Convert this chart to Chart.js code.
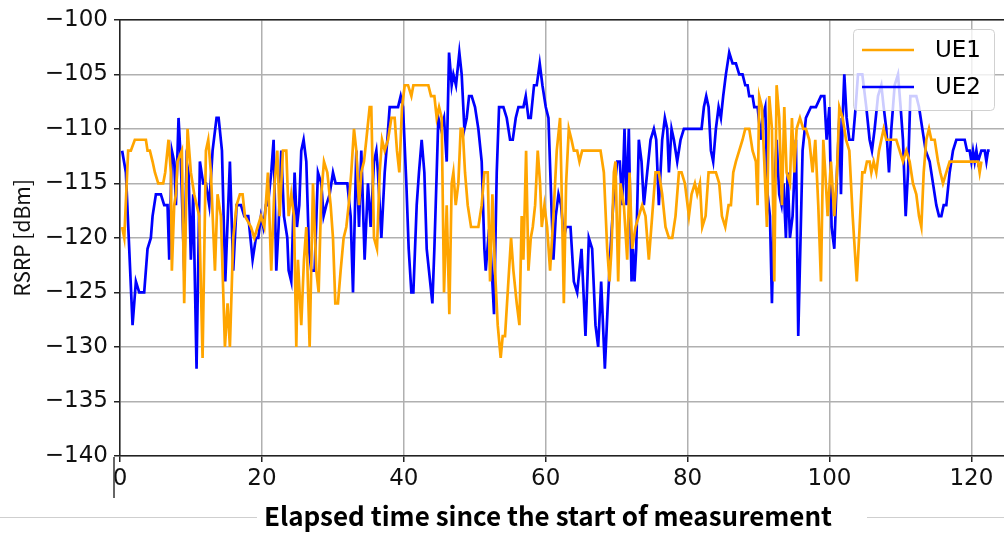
<!DOCTYPE html>
<html>
<head>
<meta charset="utf-8">
<script src="https://cdn.jsdelivr.net/npm/chart.js@4.4.1/dist/chart.umd.min.js"></script>
<style>
html,body{margin:0;padding:0;background:#fff;}
#wrap{width:1004px;height:533px;position:relative;}
</style>
</head>
<body>
<div id="wrap"><canvas id="c" width="1004" height="533"></canvas></div>
<script>
// ---- data ----
const seriesNames = ["UE1", "UE2"];
const xTitle = "Elapsed time since the start of measurement";
const yTitle = "RSRP [dBm]";
const yTicks = [-140, -135, -130, -125, -120, -115, -110, -105, -100];
const xTicks = [0, 20, 40, 60, 80, 100, 120];

const ue1Time = [0.3,0.6,1.15,1.53,2.09,3.65,3.88,4.21,4.59,4.92,5.39,6.09,6.37,6.84,7.17,7.31,7.64,7.88,8.11,8.72,9.05,9.52,9.99,10.46,11.17,11.64,12.11,12.44,12.81,13.38,13.75,14.22,14.79,15.16,15.49,15.96,16.43,16.9,17.28,17.61,18.46,18.93,19.4,19.87,20.34,
20.85,21.32,21.79,22.17,22.5,22.97,23.44,23.77,24.14,24.52,24.85,25.08,25.55,25.93,26.26,26.73,27.2,27.67,28.0,28.37,28.75,29.22,29.69,30.02,30.35,30.72,31.1,31.52,31.9,32.23,32.6,32.98,33.31,33.69,34.01,34.39,34.72,35.19,35.42,35.8,36.22,36.6,36.93,37.31,37.78,38.25,38.71,39.04,39.37,39.75,40.13,40.6,41.07,41.35,43.46,43.84,44.31,44.64,44.97,45.34,45.67,46.05,46.42,46.75,46.99,47.32,47.69,48.02,48.3,48.63,49.01,49.48,50.51,50.98,51.36,51.83,52.16,52.49,52.86,53.24,53.66,53.94,54.27,54.74,55.12,55.45,55.92,56.3,56.62,56.86,57.24,57.57,57.9,58.18,58.51,58.88,59.21,59.45,59.82,60.2,60.62,61.09,61.56,62.03,
62.23,62.56,62.88,63.26,63.64,63.97,64.44,64.76,65.14,67.73,68.2,68.67,69.0,69.28,69.61,69.84,70.22,70.55,71.02,71.49,71.82,72.19,72.66,73.13,73.6,74.07,74.54,75.01,75.48,75.95,76.42,76.89,77.37,77.84,78.3,78.78,79.15,79.62,80.19,80.56,81.03,81.36,81.74,82.07,82.54,
82.96,83.99,84.46,84.84,85.31,85.78,86.11,86.44,86.81,87.28,87.75,88.13,88.69,89.16,89.63,89.87,90.1,90.48,90.81,91.18,91.51,91.89,92.22,92.55,92.92,93.3,93.63,93.96,94.43,94.71,95.04,95.37,95.84,96.31,96.68,97.15,97.62,98.0,98.42,98.8,99.13,99.41,99.74,100.21,100.68,101.06,101.39,101.86,102.33,102.8,103.27,103.85,
104.25,104.63,104.96,105.28,105.66,105.9,106.23,106.6,106.98,107.31,107.64,108.01,109.42,109.89,110.36,110.83,111.3,111.77,112.24,112.62,112.95,113.28,113.65,114.03,114.36,114.83,115.3,115.63,116.0,116.47,116.94,120.94,121.17,121.41];
const ue1Rsrp = [-119,-120,-112,-112,-111,-111,-112,-112,-113,-114,-115,-115,-114,-111,-114,-123,-117,-116,-113,-112,-126,-110,-114,-116,-118,-131,-112,-111,-114,-123,-116,-118,-130,-126,-130,-120,-117,-116,-116,-118,-119,-120,-119,-118,-119,
-114,-123,-115,-112,-118,-112,-112,-118,-116,-118,-130,-122,-128,-122,-119,-130,-115,-123,-125,-116,-113,-114,-117,-120,-126,-126,-123,-120,-119,-117,-114,-110,-112,-117,-114,-113,-111,-108,-108,-120,-121,-114,-111,-112,-111,-109,-109,-112,-114,-108,-106,-106,-107,-106,-106,-107,-107,-109,-108,-109,-125,-117,-127,-115,-114,-117,-115,-110,-110,-114,-117,-119,-119,-117,-114,-114,-124,-116,-123,-128,-131,-129,-129,-124,-120,-123,-126,-128,-118,-122,-112,-123,-120,-119,-117,-112,-115,-119,-117,-119,-123,-118,-112,-109,
-115,-126,-115,-110,-111,-112,-112,-113,-112,-112,-114,-121,-124,-121,-114,-113,-124,-115,-117,-122,-114,-121,-119,-118,-117,-118,-122,-118,-114,-114,-116,-119,-120,-120,-118,-114,-114,-115,-118,-116,-115,-116,-115,-119,-118,
-114,-114,-115,-118,-119,-117,-117,-114,-113,-112,-111,-110,-110,-112,-113,-117,-107,-108,-113,-119,-107,-110,-124,-106,-109,-117,-108,-114,-115,-109,-114,-110,-109,-110,-110,-111,-114,-111,-117,-124,-111,-114,-118,-113,-118,-114,-108,-109,-111,-112,-118,-124,
-119,-114,-114,-113,-113,-114,-113,-114,-112,-111,-110,-111,-111,-112,-113,-112,-113,-115,-116,-118,-119,-114,-111,-110,-111,-111,-113,-114,-115,-114,-113,-113,-114,-113];

const ue2Time = [0.3,0.83,1.77,2.24,2.71,3.41,3.88,4.35,4.59,5.06,5.76,6.23,6.7,6.94,7.31,7.64,7.88,8.25,8.58,9.05,9.38,9.66,9.99,10.32,10.79,11.26,11.73,12.11,12.58,13.05,13.61,13.9,14.37,14.84,15.49,15.96,16.43,17.05,17.52,18.08,18.69,19.16,19.49,19.87,20.2,20.57,
20.85,21.32,21.65,22.03,22.35,22.73,23.11,23.58,23.77,24.14,24.61,24.94,25.27,25.55,25.88,26.26,26.63,26.96,27.43,27.9,28.37,28.7,29.08,29.55,30.02,30.39,32.04,32.51,32.84,33.31,33.69,34.01,34.48,34.95,35.33,35.8,36.13,36.36,36.84,37.31,37.68,38.01,39.19,39.56,39.89,40.36,40.69,41.07,
41.35,41.82,42.14,42.52,42.9,43.23,43.55,44.03,44.31,44.64,44.87,45.25,45.67,46.05,46.38,46.75,46.99,47.36,47.83,48.16,48.54,48.87,49.2,49.57,50.04,50.51,50.98,51.36,51.55,51.92,52.25,52.72,53.1,53.43,54.04,54.51,54.98,55.36,55.78,56.16,56.86,57.19,57.57,57.9,58.36,58.74,59.16,59.54,60.01,60.39,60.86,61.09,61.42,61.8,62.17,
62.56,62.88,63.5,63.97,64.44,65.05,65.61,66.08,66.55,67.02,67.4,67.82,68.34,68.76,69.14,69.61,70.08,70.45,70.78,71.11,71.39,71.72,72.1,72.29,72.52,72.76,73.13,73.51,73.84,74.31,74.78,75.25,75.58,75.95,76.42,76.8,77.13,77.37,77.74,78.07,78.54,79.01,79.48,81.97,82.3,82.63,
82.96,83.29,83.61,83.99,84.37,84.7,85.02,85.4,85.87,86.34,86.81,87.28,87.75,88.13,88.46,88.69,89.16,89.4,89.87,90.34,90.57,90.95,91.28,91.61,91.89,92.22,92.55,92.92,93.25,93.53,93.86,94.1,94.43,94.8,95.27,95.6,96.21,96.68,97.39,98.09,98.8,99.27,99.6,99.98,100.3,100.68,101.06,101.39,101.62,101.86,102.09,102.42,102.8,103.3,
103.69,104.02,104.63,105.19,105.66,105.99,106.37,106.84,107.31,107.64,108.01,108.39,108.72,109.19,109.66,110.03,110.36,110.74,111.07,111.4,112.24,112.62,113.09,113.56,114.12,114.59,115.06,115.44,115.77,116.1,116.47,116.94,117.41,117.88,119.06,119.39,119.76,120.0,120.23,120.47,120.71,120.94,121.41,121.88,122.12,122.35,122.58];
const ue2Rsrp = [-112,-114,-128,-124,-125,-125,-121,-120,-118,-116,-116,-117,-117,-122,-112,-113,-117,-109,-113,-123,-113,-114,-122,-116,-132,-113,-115,-115,-117,-112,-109,-109,-112,-124,-113,-123,-117,-117,-118,-118,-122,-120,-120,-118,-119,-117,
-117,-114,-111,-123,-119,-112,-118,-120,-123,-124,-114,-119,-117,-112,-111,-113,-121,-123,-123,-114,-115,-118,-117,-116,-114,-115,-115,-118,-125,-112,-119,-112,-122,-115,-119,-113,-112,-114,-120,-114,-111,-108,-108,-107,-108,-115,-121,-125,
-125,-117,-114,-111,-114,-121,-123,-126,-121,-114,-109,-110,-109,-113,-103,-106,-105,-106,-103,-105,-110,-109,-107,-107,-108,-110,-113,-121,-123,-120,-121,-127,-114,-108,-108,-109,-111,-111,-109,-108,-108,-107,-109,-109,-106,-106,-104,-106,-108,-109,-118,-122,-118,-116,-117,
-120,-119,-119,-124,-125,-121,-129,-120,-121,-128,-130,-124,-132,-126,-121,-116,-113,-113,-117,-110,-117,-110,-124,-121,-124,-121,-111,-113,-117,-114,-111,-110,-111,-117,-111,-109,-110,-114,-110,-111,-113,-111,-110,-110,-108,-107,
-108,-112,-113,-110,-108,-109,-107,-105,-103,-104,-104,-105,-105,-106,-106,-107,-107,-108,-108,-111,-109,-108,-116,-118,-126,-116,-111,-116,-117,-115,-120,-114,-120,-118,-111,-129,-112,-109,-108,-108,-107,-107,-111,-108,-119,-121,-114,-109,-116,-109,-105,-109,-111,-111,
-108,-105,-105,-108,-111,-112,-110,-107,-106,-108,-110,-114,-110,-106,-105,-108,-111,-118,-114,-107,-107,-108,-110,-112,-113,-115,-117,-118,-118,-117,-117,-114,-112,-111,-111,-112,-112,-113,-112,-113,-112,-113,-112,-112,-113,-112,-112];

const seriesColors = ["#FFA500", "#0000FF"];

const toPoints = (ts, vs) => ts.map((t, i) => ({x: t, y: vs[i]}));

const fmtMinus = v => (v < 0 ? "\u2212" + Math.abs(v) : String(v));

// decorations: top spine, odd frame remnants, x title and legend box
const extras = {
  id: "extras",
  afterDatasetsDraw(chart) {
    const {ctx, chartArea: a} = chart;
    ctx.save();
    // top spine
    ctx.strokeStyle = "#222";
    ctx.lineWidth = 1.5;
    ctx.beginPath();
    ctx.moveTo(a.left, a.top);
    ctx.lineTo(a.right, a.top);
    ctx.stroke();
    // legend
    const lx = 853, ly = 29, lw = 141, lh = 81;
    ctx.fillStyle = "rgba(255,255,255,0.8)";
    ctx.strokeStyle = "rgba(204,204,204,0.9)";
    ctx.lineWidth = 1;
    ctx.beginPath();
    if (ctx.roundRect) ctx.roundRect(lx + 0.5, ly + 0.5, lw, lh, 4); else ctx.rect(lx + 0.5, ly + 0.5, lw, lh);
    ctx.fill();
    ctx.stroke();
    const rows = [50, 87];
    ctx.font = "23px 'DejaVu Sans'";
    ctx.textBaseline = "middle";
    ctx.textAlign = "left";
    seriesNames.forEach((n, i) => {
      ctx.strokeStyle = seriesColors[i];
      ctx.lineWidth = 2.7;
      ctx.beginPath();
      ctx.moveTo(862, rows[i]);
      ctx.lineTo(914, rows[i]);
      ctx.stroke();
      ctx.fillStyle = "#000";
      ctx.fillText(n, 935, rows[i] + 1);
    });
    ctx.restore();
  },
  afterDraw(chart) {
    const {ctx} = chart;
    ctx.save();
    ctx.strokeStyle = "#cfcfcf";
    ctx.lineWidth = 1;
    ctx.beginPath();
    ctx.moveTo(0, 517.5); ctx.lineTo(257, 517.5);
    ctx.moveTo(867, 517.5); ctx.lineTo(1004, 517.5);
    ctx.stroke();
    ctx.strokeStyle = "#333";
    ctx.lineWidth = 1.5;
    ctx.beginPath();
    ctx.moveTo(114, 457); ctx.lineTo(114, 498);
    ctx.stroke();
    ctx.fillStyle = "#000";
    ctx.font = "bold 26px 'Noto Sans CJK JP'";
    ctx.textAlign = "center";
    ctx.textBaseline = "middle";
    ctx.fillText(xTitle, 548, 516);
    ctx.restore();
  }
};

new Chart(document.getElementById("c"), {
  type: "line",
  data: {
    datasets: seriesNames.map((n, i) => ({
      label: n,
      data: toPoints(i === 0 ? ue1Time : ue2Time, i === 0 ? ue1Rsrp : ue2Rsrp),
      borderColor: seriesColors[i],
      backgroundColor: seriesColors[i],
      borderWidth: 2.7,
      pointRadius: 0,
      tension: 0,
      fill: false
    }))
  },
  options: {
    responsive: false,
    animation: false,
    devicePixelRatio: 1,
    layout: {padding: {top: 15, right: 0, left: 0, bottom: 0}},
    plugins: {legend: {display: false}, tooltip: {enabled: false}},
    scales: {
      x: {
        type: "linear",
        min: 0,
        max: 124.6,
        afterFit: s => { s.height = 77; },
        afterBuildTicks: s => { s.ticks = xTicks.map(v => ({value: v})); },
        ticks: {includeBounds: false, stepSize: 20, padding: 3, color: "#111", font: {family: "'DejaVu Sans'", size: 23}, maxRotation: 0},
        grid: {color: "#b0b0b0", lineWidth: 1.5, tickLength: 6, tickColor: "#222", drawTicks: true},
        border: {display: true, color: "#222", width: 1.5}
      },
      y: {
        type: "linear",
        min: -140,
        max: -100,
        afterFit: s => { s.width = 120; },
        afterBuildTicks: s => { s.ticks = yTicks.map(v => ({value: v})); },
        ticks: {stepSize: 5, padding: 6, color: "#111", font: {family: "'DejaVu Sans'", size: 23}, callback: v => fmtMinus(v)},
        grid: {color: "#b0b0b0", lineWidth: 1.5, tickLength: 6, tickColor: "#222"},
        border: {display: true, color: "#222", width: 1.5},
        title: {display: true, text: yTitle, color: "#111", font: {family: "'Noto Sans CJK JP'", size: 21}, padding: {top: 9, bottom: 0}}
      }
    }
  },
  plugins: [extras]
});
</script>
</body>
</html>
